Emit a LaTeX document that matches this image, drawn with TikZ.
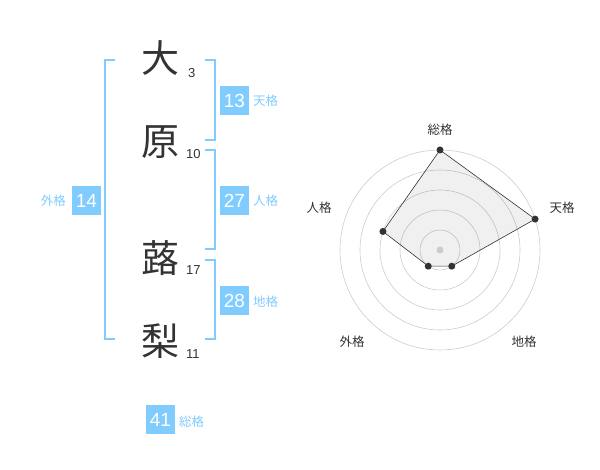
\documentclass[tikz,border=0pt]{standalone}
\usepackage{fontspec}
\setmainfont{Liberation Sans}
\newfontfamily\cjk{Noto Sans CJK JP}
\definecolor{bluebox}{HTML}{80CCFF}
\definecolor{bluetxt}{HTML}{80CCFF}
\definecolor{ink}{HTML}{333333}
\definecolor{ringc}{HTML}{CCCCCC}
\begin{document}
\begin{tikzpicture}[x=1pt,y=-1pt,
  kanji/.style={font=\cjk\fontsize{38}{38}\selectfont, text=ink, inner sep=0pt},
  stroke/.style={font=\fontsize{13}{13}\selectfont, text=ink, inner sep=0pt},
  numbox/.style={fill=bluebox, text=white, minimum width=29pt, minimum height=29pt, inner sep=0pt, font=\fontsize{19}{19}\selectfont},
  kaku/.style={font=\cjk\fontsize{12.5}{12.5}\selectfont, text=bluetxt, inner sep=0pt},
  brk/.style={draw=bluebox, line width=2pt},
  axlab/.style={font=\cjk\fontsize{12.5}{12.5}\selectfont, text=ink, inner sep=0pt},
  ring/.style={draw=ringc, line width=0.6pt},
  dot/.style={circle, fill=ink, minimum size=7pt, inner sep=0pt}]
\useasboundingbox (0,0) rectangle (600,470);
% name characters
\node[kanji] (k1) at (160,58) {大};
\node[kanji] (k2) at (160,142) {原};
\node[kanji] (k3) at (160,258) {蕗};
\node[kanji] (k4) at (160,341) {梨};
\node[stroke,anchor=west] (s1) at (188,73) {3};
\node[stroke,anchor=west] (s2) at (186,154) {10};
\node[stroke,anchor=west] (s3) at (186,270) {17};
\node[stroke,anchor=west] (s4) at (186,354) {11};
% brackets
\draw[brk] (115,60) -- (105,60) -- (105,339) -- (115,339);
\draw[brk] (205,60) -- (215,60) -- (215,140) -- (205,140);
\draw[brk] (205,150) -- (215,150) -- (215,249) -- (205,249);
\draw[brk] (205,260) -- (215,260) -- (215,339) -- (205,339);
% boxes
\node[numbox] (b13) at (234.5,100.5) {13};
\node[kaku,anchor=west] (l13) at (253,101) {天格};
\node[numbox] (b27) at (234.5,200.5) {27};
\node[kaku,anchor=west] (l27) at (253,201) {人格};
\node[numbox] (b28) at (234.5,300.5) {28};
\node[kaku,anchor=west] (l28) at (253,302) {地格};
\node[numbox] (b14) at (86.5,200.5) {14};
\node[kaku,anchor=east] (l14) at (66,201) {外格};
\node[numbox] (b41) at (160.5,419.5) {41};
\node[kaku,anchor=west] (l41) at (179,422) {総格};
% radar
\coordinate (c) at (440,250);
\foreach \r in {20,40,60,80,100} \draw[ring] (c) circle[radius=\r];
\path (c) ++(0,-100) coordinate (p1);
\path (c) ++(95.1,-30.9) coordinate (p2);
\path (c) ++(11.76,16.18) coordinate (p3);
\path (c) ++(-11.76,16.18) coordinate (p4);
\path (c) ++(-57.06,-18.54) coordinate (p5);
\filldraw[fill=black, fill opacity=0.06, draw=ink, line width=0.6pt] (p1) -- (p2) -- (p3) -- (p4) -- (p5) -- cycle;
\foreach \p in {p1,p2,p3,p4,p5} \node[dot] at (\p) {};
\node[circle, fill=ringc, minimum size=7pt, inner sep=0pt] (cd) at (c) {};
\node[axlab] (a1) at (440,130) {総格};
\node[axlab] (a2) at (562,208) {天格};
\node[axlab] (a3) at (524,342) {地格};
\node[axlab] (a4) at (352,342) {外格};
\node[axlab] (a5) at (319,208) {人格};
\end{tikzpicture}
\end{document}
